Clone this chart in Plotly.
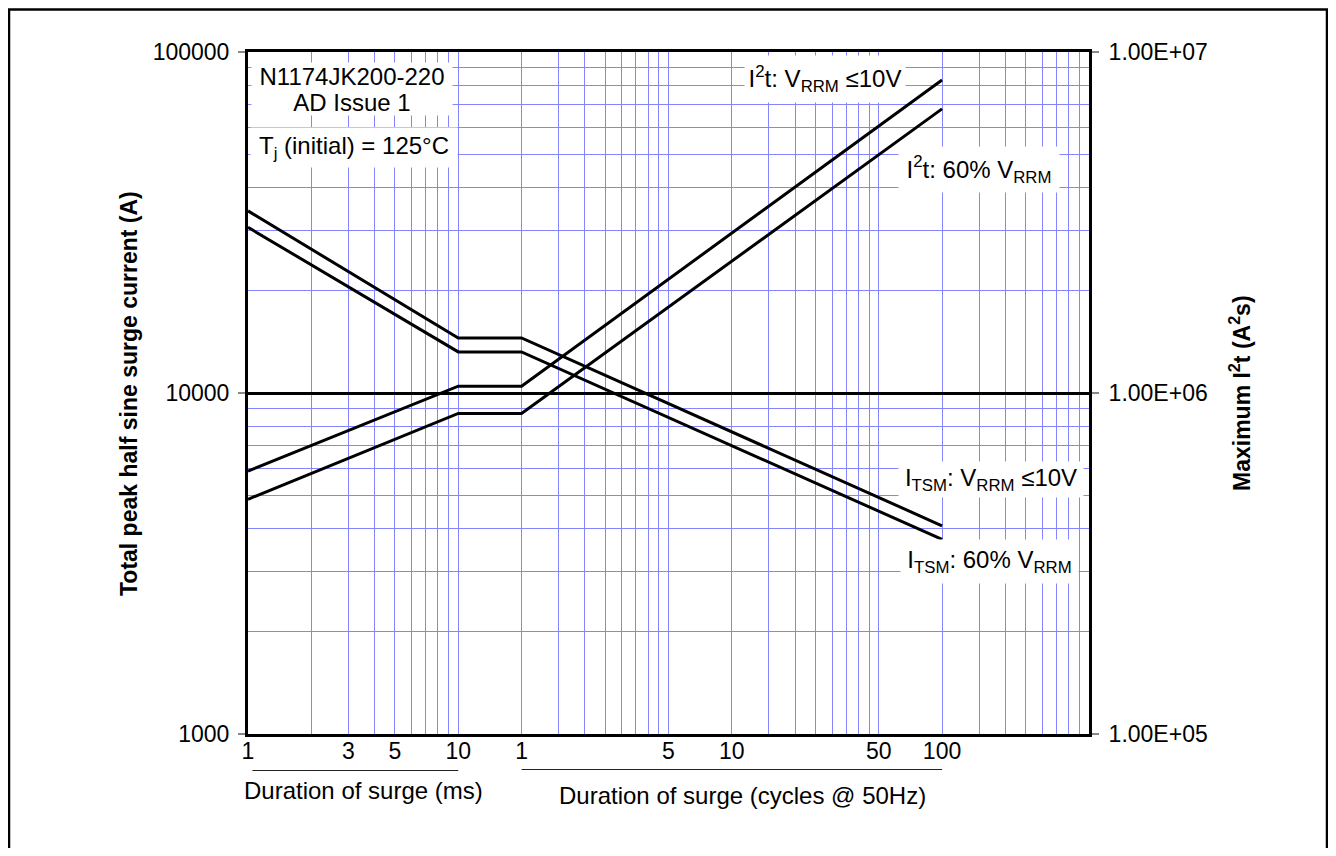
import plotly.graph_objects as go

# ---------------- data ----------------
t_ms = [1, 10, 20, 2000]                      # duration of surge (ms); 20 ms = 1 cycle @ 50 Hz
itsm_10v = [34200, 14500, 14500, 4080]        # I_TSM, V_RRM <= 10 V (A)
itsm_60 = [30600, 13200, 13200, 3720]         # I_TSM, 60% V_RRM (A)
i2t_10v = [5.90e5, 1.047e6, 1.047e6, 8.28e6]  # I2t, V_RRM <= 10 V (A2s)
i2t_60 = [4.88e5, 8.71e5, 8.71e5, 6.81e6]     # I2t, 60% V_RRM (A2s)

x_tick_ms = [1, 3, 5, 10, 20, 100, 200, 1000, 2000]
x_tick_text = ["1", "3", "5", "10", "1", "5", "10", "50", "100"]
x_decades = [1, 10, 100, 1000]
x_heavy = [10, 100, 1000]
y_left_ticks = [1000, 10000, 100000]
y_left_text = ["1000", "10000", "100000"]
y_right_ticks = [1e5, 1e6, 1e7]
y_right_text = ["1.00E+05", "1.00E+06", "1.00E+07"]

FONT = "Liberation Sans, Arial, sans-serif"
BLUE = "#8585ff"
FS = 23     # tick labels
FA = 24     # annotations
FT = 23     # bold axis titles

OFF = 8     # page body margin of the html page
W, H = 1336 - 2 * OFF, 856 - 2 * OFF
ML, MT = 248 - OFF, 52 - OFF
MR = W - (1089 - OFF)
MB = H - (734 - OFF)
PW, PH = W - ML - MR, H - MT - MB


def px(x):  # page pixel -> paper x
    return (x - OFF - ML) / PW


def py(y):  # page pixel -> paper y
    return 1 - (y - OFF - MT) / PH


x_all = [m * d for d in x_decades for m in range(1, 10)] + [10000]
x_minor = [v for v in x_all if v not in x_tick_ms]
y_minor = [m * d for d in [1000, 10000] for m in range(2, 10)]

fig = go.Figure()
line = dict(color="black", width=3)
fig.add_trace(go.Scatter(x=t_ms, y=itsm_10v, mode="lines", line=line, xaxis="x", yaxis="y"))
fig.add_trace(go.Scatter(x=t_ms, y=itsm_60, mode="lines", line=line, xaxis="x", yaxis="y"))
fig.add_trace(go.Scatter(x=t_ms, y=i2t_10v, mode="lines", line=line, xaxis="x", yaxis="y2"))
fig.add_trace(go.Scatter(x=t_ms, y=i2t_60, mode="lines", line=line, xaxis="x", yaxis="y2"))

fig.update_layout(
    width=W, height=H,
    margin=dict(l=ML, r=MR, t=MT, b=MB, autoexpand=False),
    paper_bgcolor="white", plot_bgcolor="white",
    showlegend=False,
    font=dict(family=FONT, size=FS, color="black"),
    xaxis=dict(
        type="log", range=[0, 4], tickmode="array", tickvals=x_tick_ms, ticktext=x_tick_text,
        showgrid=True, gridcolor=BLUE, gridwidth=1, ticks="", zeroline=False,
        minor=dict(tickmode="array", tickvals=x_minor, showgrid=True, gridcolor=BLUE,
                   gridwidth=1, ticks=""),
        showline=True, linecolor="black", linewidth=3, mirror=True,
        tickfont=dict(size=FS, family=FONT, color="black"), automargin=False,
        ticklabelstandoff=-6,
    ),
    xaxis2=dict(
        type="log", range=[0, 4], overlaying="x", anchor="y", tickmode="array",
        tickvals=x_heavy, showticklabels=False, ticks="", showgrid=True,
        gridcolor="black", gridwidth=2.5, showline=False, zeroline=False,
    ),
    yaxis=dict(
        type="log", range=[3, 5], tickmode="array", tickvals=y_left_ticks, ticktext=y_left_text,
        showgrid=True, gridcolor="black", gridwidth=2.5,
        minor=dict(tickmode="array", tickvals=y_minor, showgrid=True, gridcolor=BLUE,
                   gridwidth=1, ticks=""),
        ticks="outside", ticklen=7, tickcolor="#888888", tickwidth=1.5,
        showline=True, linecolor="black", linewidth=3, mirror=True, zeroline=False,
        tickfont=dict(size=FS, family=FONT, color="black"), automargin=False,
        ticklabelstandoff=4,
    ),
    yaxis2=dict(
        type="log", range=[5, 7], overlaying="y", side="right", anchor="x",
        tickmode="array", tickvals=y_right_ticks, ticktext=y_right_text,
        showgrid=False, ticks="outside", ticklen=7, tickcolor="#888888", tickwidth=1.5,
        showline=True, linecolor="black", linewidth=3, zeroline=False,
        tickfont=dict(size=FS, family=FONT, color="black"), automargin=False,
        ticklabelstandoff=5,
    ),
)

ann = []


def box(text, xc, yc, w, h):
    ann.append(dict(text=text, xref="paper", yref="paper", x=px(xc), y=py(yc),
                    xanchor="center", yanchor="middle", showarrow=False,
                    width=w, height=h, bgcolor="white", borderpad=0,
                    font=dict(size=FA, family=FONT, color="black")))


box("N1174JK200-220", 352, 76, 200, 26)
box("AD Issue 1", 352, 102, 200, 26)
box("T<sub>j</sub> (initial) = 125°C", 354, 147.5, 206, 39)
box("I<sup>2</sup>t: V<sub>RRM</sub> ≤10V", 825, 79, 160, 46)
box("I<sup>2</sup>t: 60% V<sub>RRM</sub>", 979, 169.5, 160, 45)
box("I<sub>TSM</sub>: V<sub>RRM</sub> ≤10V", 991, 479.5, 184, 35)
box("I<sub>TSM</sub>: 60% V<sub>RRM</sub>", 989.5, 561.5, 177, 43)

# axis titles
ann.append(dict(text="<b>Total peak half sine surge current (A)</b>", xref="paper", yref="paper",
                x=px(129), y=py(393), textangle=-90, showarrow=False, xanchor="center",
                yanchor="middle", font=dict(size=FT, family=FONT, color="black")))
ann.append(dict(text="<b>Maximum I<sup>2</sup>t (A<sup>2</sup>s)</b>", xref="paper", yref="paper",
                x=px(1240), y=py(393), textangle=-90, showarrow=False, xanchor="center",
                yanchor="middle", font=dict(size=FT, family=FONT, color="black")))
ann.append(dict(text="Duration of surge (ms)", xref="paper", yref="paper",
                x=px(363), y=py(790), showarrow=False, xanchor="center", yanchor="middle",
                font=dict(size=FA, family=FONT, color="black")))
ann.append(dict(text="Duration of surge (cycles @ 50Hz)", xref="paper", yref="paper",
                x=px(742), y=py(795), showarrow=False, xanchor="center", yanchor="middle",
                font=dict(size=FA, family=FONT, color="black")))
fig.update_layout(annotations=ann)

shapes = [
    # underline of ms scale and cycles scale
    dict(type="line", xref="x", yref="paper", x0=1.05, x1=10, y0=py(770.5), y1=py(770.5),
         line=dict(color="#222222", width=1.2)),
    dict(type="line", xref="x", yref="paper", x0=20, x1=2000, y0=py(769.5), y1=py(769.5),
         line=dict(color="#222222", width=1.2)),
    # page frame
    dict(type="rect", xref="paper", yref="paper", x0=px(9), x1=px(1327), y0=py(880), y1=py(9.5),
         line=dict(color="black", width=2.5)),
]
fig.update_layout(shapes=shapes)

fig.write_html("out.html")
